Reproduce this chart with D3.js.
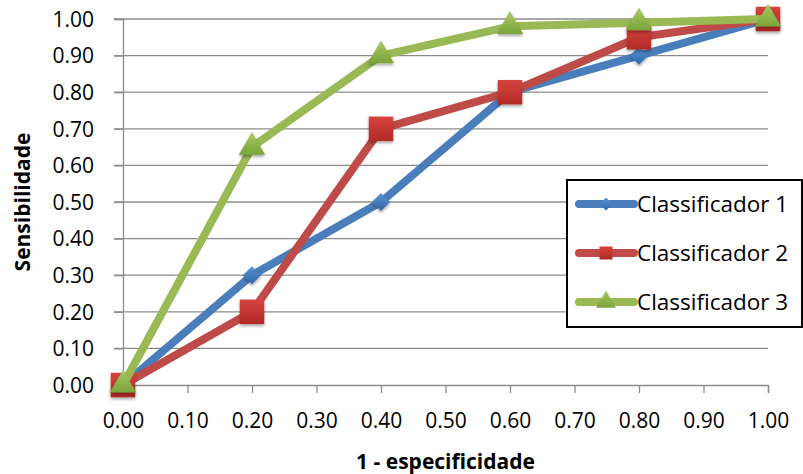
<!DOCTYPE html>
<html>
<head>
<meta charset="utf-8">
<script src="https://cdn.jsdelivr.net/npm/d3@7"></script>
<style>
  body { margin: 0; background: #fff; }
  svg { display: block; font-family: "Open Sans", sans-serif; }
</style>
</head>
<body>
<svg id="mainSvg"></svg>
<script>
// data
const xValues = [0.0, 0.2, 0.4, 0.6, 0.8, 1.0];
const classificador1 = [0.0, 0.30, 0.50, 0.80, 0.90, 1.00];
const classificador2 = [0.0, 0.20, 0.70, 0.80, 0.95, 1.00];
const classificador3 = [0.0, 0.65, 0.90, 0.98, 0.99, 1.00];
const seriesNames = ['Classificador 1', 'Classificador 2', 'Classificador 3'];
const tickValues = d3.range(0, 11).map(d => d / 10);

const style = {
    svgW: 803, svgH: 474,
    plot: { l: 123, r: 768, t: 19, b: 385 },
    colors: ['#4a7ebb', '#be4b48', '#98b954'],
    markerDark: ['#2f68a8', '#b02a26', '#7aa33a'],
    markerLight: ['#5b92d3', '#d6433f', '#a8cb62'],
    lineW: 8,
    grid: '#8c8c8c',
    tickFont: '21px',
    legendFont: '22.5px',
    titleFont: '21px'
};

const series = [classificador1, classificador2, classificador3].map((vals, i) => ({
    name: seriesNames[i],
    shape: ['diamond', 'square', 'triangle'][i],
    idx: i,
    points: xValues.map((x, j) => ({ x: x, y: vals[j] }))
}));

const svg = d3.select('#mainSvg')
    .attr('width', style.svgW)
    .attr('height', style.svgH);

const defs = svg.append('defs');
series.forEach(s => {
    const g = defs.append('linearGradient')
        .attr('id', 'grad' + s.idx)
        .attr('x1', 0).attr('y1', 0).attr('x2', 0).attr('y2', 1);
    g.append('stop').attr('offset', '0%').attr('stop-color', style.markerLight[s.idx]);
    g.append('stop').attr('offset', '100%').attr('stop-color', style.markerDark[s.idx]);
});
const shadow = defs.append('filter').attr('id', 'shadow')
    .attr('x', '-50%').attr('y', '-50%').attr('width', '200%').attr('height', '200%');
shadow.append('feDropShadow')
    .attr('dx', 0).attr('dy', 2).attr('stdDeviation', 1.5)
    .attr('flood-color', '#000').attr('flood-opacity', 0.35);

const x = d3.scaleLinear().domain([0, 1]).range([style.plot.l, style.plot.r]);
const y = d3.scaleLinear().domain([0, 1]).range([style.plot.b, style.plot.t]);

// horizontal grid + y ticks
svg.append('g')
    .selectAll('line')
    .data(tickValues.slice(1))
    .join('line')
    .attr('x1', style.plot.l - 9)
    .attr('x2', style.plot.r)
    .attr('y1', d => y(d))
    .attr('y2', d => y(d))
    .attr('stroke', style.grid)
    .attr('stroke-width', 1.3);

// y axis
const yAxis = svg.append('g')
    .attr('transform', `translate(${style.plot.l},0)`)
    .call(d3.axisLeft(y).tickValues(tickValues).tickFormat(d3.format('.2f')).tickSize(9).tickPadding(20));
// x axis
const xAxis = svg.append('g')
    .attr('transform', `translate(0,${style.plot.b})`)
    .call(d3.axisBottom(x).tickValues(tickValues).tickFormat(d3.format('.2f')).tickSize(8).tickPadding(20));

[yAxis, xAxis].forEach(ax => {
    ax.select('.domain').attr('stroke', style.grid).attr('stroke-width', 1.3);
    ax.selectAll('.tick line').attr('stroke', style.grid).attr('stroke-width', 1.3);
    ax.selectAll('.tick text')
        .attr('fill', '#000')
        .style('font-size', style.tickFont)
        .style('font-family', '"Open Sans", sans-serif');
});
yAxis.selectAll('.tick text').attr('dy', '0.35em');
xAxis.select('.tick line').attr('stroke', 'none');

// axis titles
svg.append('text')
    .attr('x', (style.plot.l + style.plot.r) / 2)
    .attr('y', 469)
    .attr('text-anchor', 'middle')
    .style('font-size', style.titleFont)
    .style('font-weight', 'bold')
    .text('1 - especificidade');

svg.append('text')
    .attr('transform', `translate(30,${(style.plot.t + style.plot.b) / 2}) rotate(-90)`)
    .attr('text-anchor', 'middle')
    .style('font-size', style.titleFont)
    .style('font-weight', 'bold')
    .text('Sensibilidade');

function markerPath(shape) {
    if (shape === 'diamond') return d3.symbol(d3.symbolDiamond2, 210)();
    if (shape === 'square') return d3.symbol(d3.symbolSquare, 600)();
    return d3.symbol(d3.symbolTriangle, 300)();
}

const line = d3.line().x(d => x(d.x)).y(d => y(d.y));

series.forEach(s => {
    const g = svg.append('g');
    g.append('path')
        .datum(s.points)
        .attr('d', line)
        .attr('fill', 'none')
        .attr('stroke', style.colors[s.idx])
        .attr('stroke-width', style.lineW)
        .attr('stroke-linejoin', 'round');
    g.selectAll('path.mk')
        .data(s.points)
        .join('path')
        .attr('class', 'mk')
        .attr('d', markerPath(s.shape))
        .attr('transform', d => `translate(${x(d.x)},${y(d.y)})`)
        .attr('fill', `url(#grad${s.idx})`)
        .attr('filter', 'url(#shadow)');
});

// legend
const legend = svg.append('g');
legend.append('rect')
    .attr('x', 567).attr('y', 180)
    .attr('width', 235).attr('height', 147)
    .attr('fill', '#fff')
    .attr('stroke', '#000')
    .attr('stroke-width', 2);

const items = legend.selectAll('g.item')
    .data(series)
    .join('g')
    .attr('class', 'item')
    .attr('transform', (d, i) => `translate(0,${204 + i * 49})`);
items.append('line')
    .attr('x1', 579).attr('x2', 634)
    .attr('stroke', d => style.colors[d.idx])
    .attr('stroke-width', style.lineW)
    .attr('stroke-linecap', 'round');
items.append('path')
    .attr('d', d => d3.symbol(d.shape === 'diamond' ? d3.symbolDiamond2 : d.shape === 'square' ? d3.symbolSquare : d3.symbolTriangle, d.shape === 'diamond' ? 110 : 170)())
    .attr('transform', 'translate(606,0)')
    .attr('fill', d => `url(#grad${d.idx})`);
items.append('text')
    .attr('x', 637)
    .attr('dy', '0.35em')
    .style('font-size', style.legendFont)
    .text(d => d.name);
</script>
</body>
</html>
